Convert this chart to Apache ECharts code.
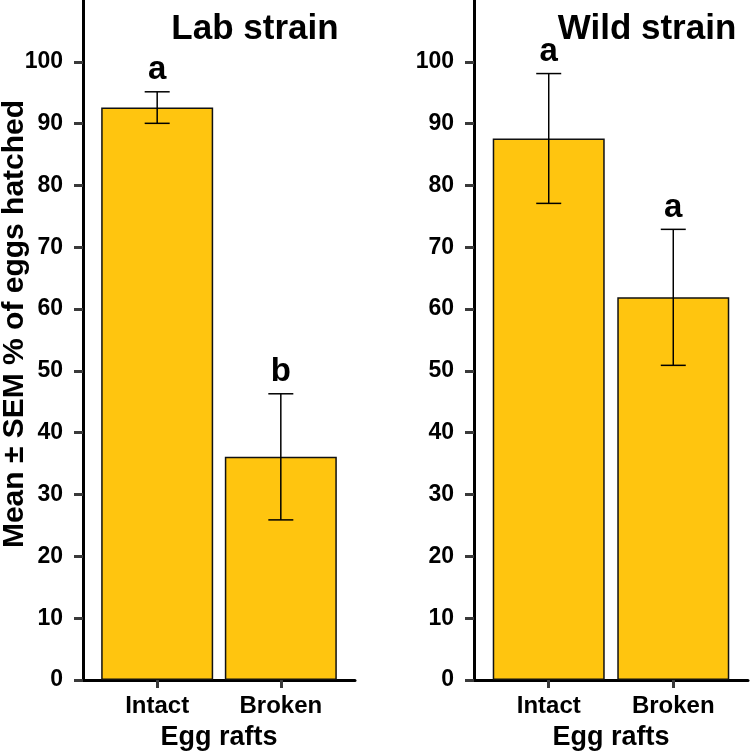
<!DOCTYPE html>
<html>
<head>
<meta charset="utf-8">
<script src="https://cdn.jsdelivr.net/npm/echarts@6/dist/echarts.min.js"></script>
<style>
html, body { margin: 0; padding: 0; background: #fff; }
#main { width: 750px; height: 756px; }
</style>
</head>
<body>
<div id="main"></div>
<script>
// data
var categories = ['Intact', 'Broken'];
var labMean = [92.6, 36.1];
var labSem = [2.55, 10.2];
var labLetters = ['a', 'b'];
var wildMean = [87.6, 61.9];
var wildSem = [10.5, 11.0];
var wildLetters = ['a', 'a'];
var yTicks = [0, 10, 20, 30, 40, 50, 60, 70, 80, 90, 100];
var xTicks = [1, 2];

var FONT = '"Liberation Sans", Arial, sans-serif';
var barColor = '#FFC50F';

var myChart = echarts.init(document.getElementById('main'));

function barData(means) {
    return means.map(function (m, i) { return [i + 1, m]; });
}
function errData(means, sems) {
    return means.map(function (m, i) { return [i + 1, m, sems[i]]; });
}

function makeErrorRender(letters) {
    return function (params, api) {
        var x = api.value(0), m = api.value(1), s = api.value(2);
        var top = api.coord([x, m + s]);
        var bot = api.coord([x, m - s]);
        var hw = 12.5;
        var st = { stroke: '#000', lineWidth: 1.5 };
        return {
            type: 'group',
            children: [
                { type: 'line', shape: { x1: top[0], y1: top[1], x2: bot[0], y2: bot[1] }, style: st },
                { type: 'line', shape: { x1: top[0] - hw, y1: top[1], x2: top[0] + hw, y2: top[1] }, style: st },
                { type: 'line', shape: { x1: bot[0] - hw, y1: bot[1], x2: bot[0] + hw, y2: bot[1] }, style: st },
                {
                    type: 'text', x: top[0], y: top[1] - 5,
                    style: {
                        text: letters[params.dataIndex], textAlign: 'center', textVerticalAlign: 'bottom',
                        font: 'bold 33px ' + FONT, fill: '#000'
                    }
                }
            ]
        };
    };
}

function xAxisFor(gridIndex) {
    return {
        type: 'value', gridIndex: gridIndex, min: 0.4, max: 2.6,
        name: 'Egg rafts', nameLocation: 'middle', nameGap: 44, nameMoveOverlap: false,
        nameTextStyle: { fontFamily: FONT, fontWeight: 'bold', fontSize: 27, color: '#000' },
        splitLine: { show: false },
        axisLine: { lineStyle: { color: '#000', width: 3 } },
        axisTick: { customValues: xTicks, length: 8, lineStyle: { color: '#3a3a3a', width: 3 } },
        axisLabel: {
            customValues: xTicks, margin: 14,
            fontFamily: FONT, fontWeight: 'bold', fontSize: 24, color: '#000',
            formatter: function (v) { return categories[Math.round(v) - 1] || ''; }
        }
    };
}

function yAxisFor(gridIndex, withName) {
    var ax = {
        type: 'value', gridIndex: gridIndex, min: 0, max: 110, interval: 10,
        splitLine: { show: false },
        axisLine: { show: true, lineStyle: { color: '#000', width: 3 } },
        axisTick: { show: true, customValues: yTicks, length: 9, lineStyle: { color: '#3a3a3a', width: 3 } },
        axisLabel: {
            customValues: yTicks, margin: 20,
            fontFamily: FONT, fontWeight: 'bold', fontSize: 23, color: '#000'
        }
    };
    if (withName) {
        ax.name = 'Mean \u00b1 SEM % of eggs hatched';
        ax.nameLocation = 'middle';
        ax.nameGap = 53;
        ax.nameMoveOverlap = false;
        ax.nameTextStyle = {
            fontFamily: FONT, fontWeight: 'bold', fontSize: 30, color: '#000',
            padding: [0, 0, 0, 32]
        };
    }
    return ax;
}

var option = {
    backgroundColor: '#fff',
    animation: false,
    title: [{
        text: 'Lab strain', left: 250, top: 7, textAlign: 'center',
        textStyle: { fontFamily: FONT, fontWeight: 'bold', fontSize: 35, color: '#000' }
    }, {
        text: 'Wild strain', left: 642, top: 7, textAlign: 'center',
        textStyle: { fontFamily: FONT, fontWeight: 'bold', fontSize: 35, color: '#000' }
    }],
    grid: [
        { left: 83, right: 395, top: 0, bottom: 76, outerBoundsMode: 'none' },
        { left: 474, right: 2, top: 0, bottom: 76, outerBoundsMode: 'none' }
    ],
    xAxis: [xAxisFor(0), xAxisFor(1)],
    yAxis: [yAxisFor(0, true), yAxisFor(1, false)],
    series: [{
        type: 'bar', xAxisIndex: 0, yAxisIndex: 0, barWidth: 112,
        itemStyle: { color: barColor, borderColor: '#111', borderWidth: 1.5 },
        data: barData(labMean)
    }, {
        type: 'custom', xAxisIndex: 0, yAxisIndex: 0, z: 5,
        renderItem: makeErrorRender(labLetters),
        data: errData(labMean, labSem)
    }, {
        type: 'bar', xAxisIndex: 1, yAxisIndex: 1, barWidth: 112,
        itemStyle: { color: barColor, borderColor: '#111', borderWidth: 1.5 },
        data: barData(wildMean)
    }, {
        type: 'custom', xAxisIndex: 1, yAxisIndex: 1, z: 5,
        renderItem: makeErrorRender(wildLetters),
        data: errData(wildMean, wildSem)
    }]
};

myChart.setOption(option);
</script>
</body>
</html>
